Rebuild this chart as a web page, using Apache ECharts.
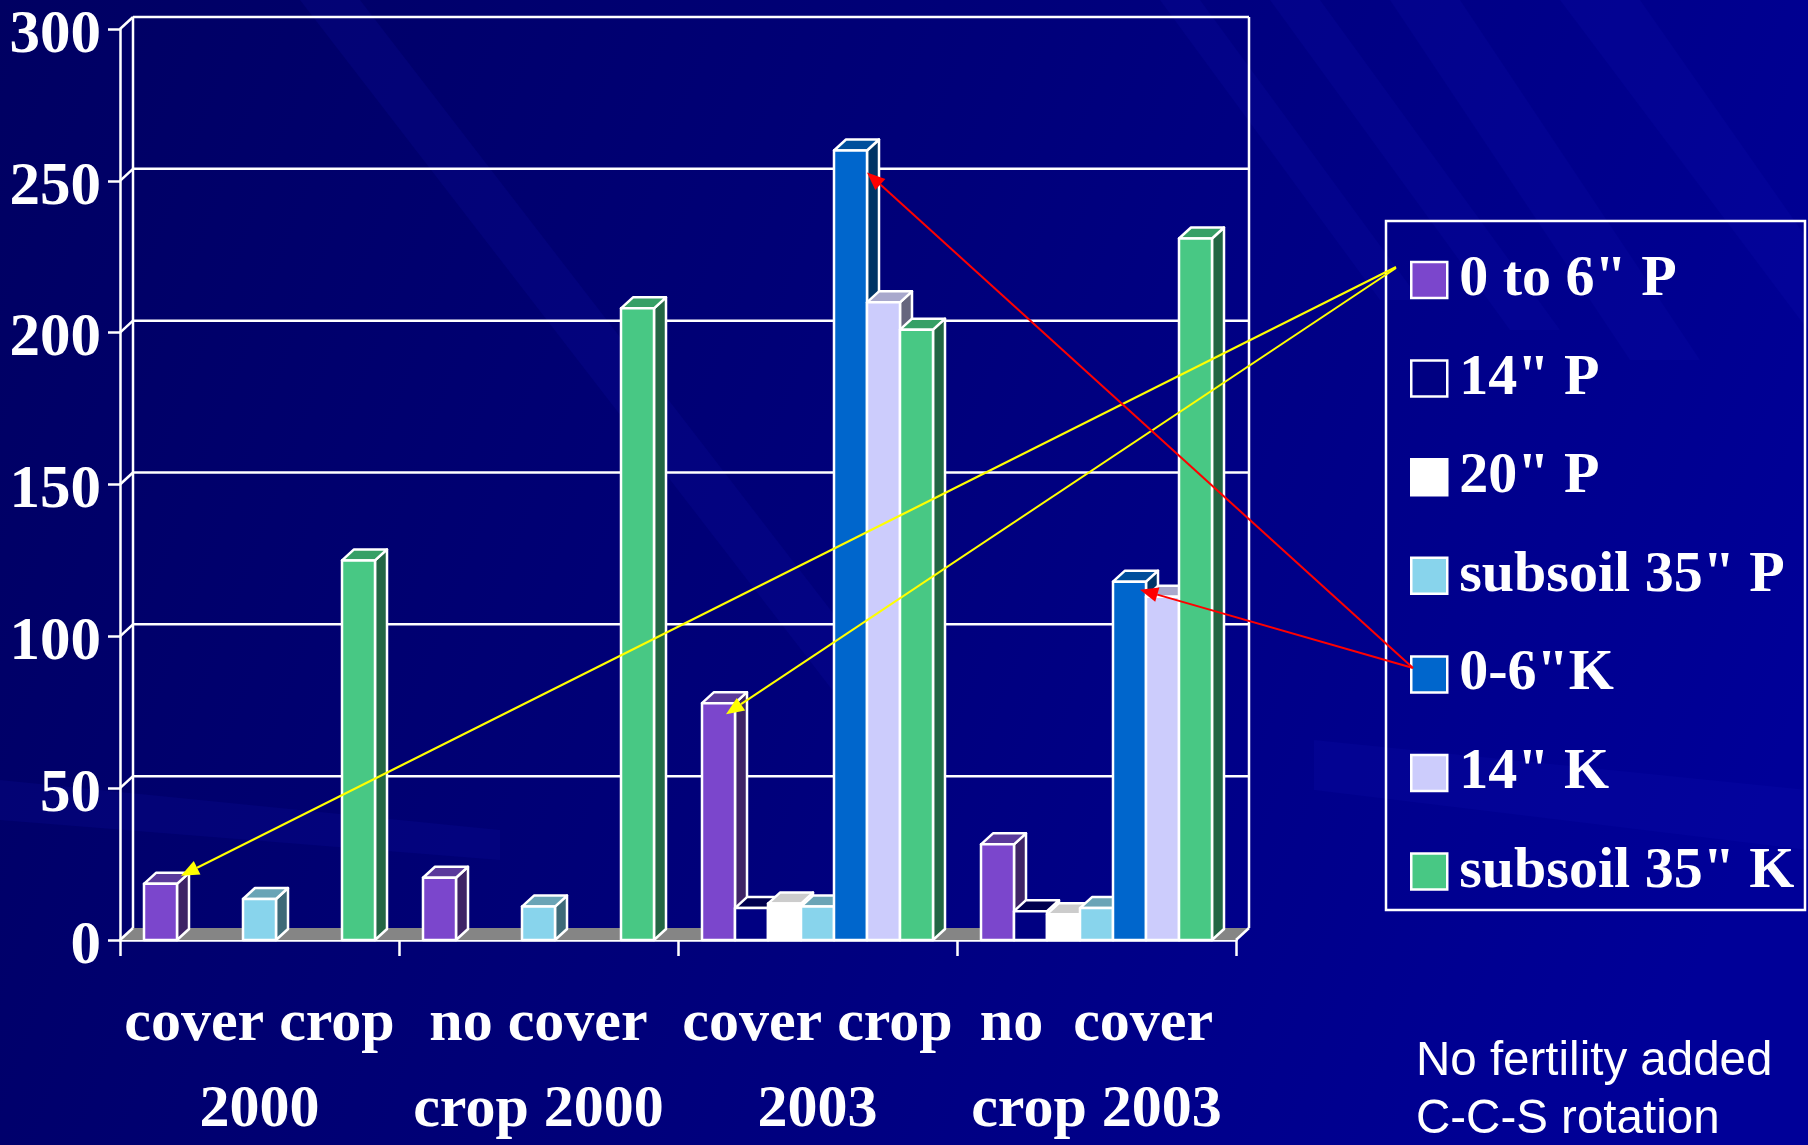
<!DOCTYPE html>
<html>
<head>
<meta charset="utf-8">
<script src="https://cdn.jsdelivr.net/npm/echarts@6/dist/echarts.min.js"></script>
<style>
  html, body { margin: 0; padding: 0; background: #000070; }
  #chart { width: 1808px; height: 1145px; }
</style>
</head>
<body>
<div id="chart"></div>
<script>
// ---- data -------------------------------------------------------------
const categories = ['cover crop\n2000', 'no cover\ncrop 2000', 'cover crop\n2003', 'no  cover\ncrop 2003'];
const seriesNames = ['0 to 6" P', '14" P', '20" P', 'subsoil 35" P', '0-6"K', '14" K', 'subsoil 35" K'];
const p0to6 = [18.5, 20.5, 78, 31.5];
const p14 = [null, null, 10.5, 9.5];
const p20 = [null, null, 12, 8.5];
const pSubsoil35 = [13.5, 11, 11, 10.5];
const k0to6 = [null, null, 260, 118];
const k14 = [null, null, 210, 113];
const kSubsoil35 = [125, 208, 201, 231];
const yTicks = [0, 50, 100, 150, 200, 250, 300];
const noteLines = ['No fertility added', 'C-C-S rotation'];

// ---- styling ------------------------------------------------------------
const seriesValues = [p0to6, p14, p20, pSubsoil35, k0to6, k14, kSubsoil35];
const faceColors = [
  { front: '#7b46cc', top: '#5b3a9c', side: '#3e2466' },
  { front: '#000082', top: '#00004e', side: '#00004a' },
  { front: '#ffffff', top: '#cccccc', side: '#8a8a8a' },
  { front: '#88d4ec', top: '#6aa4b6', side: '#3e6a78' },
  { front: '#0066cc', top: '#004f9c', side: '#003566' },
  { front: '#ccccfc', top: '#a8a8cc', side: '#66667e' },
  { front: '#48c884', top: '#36a066', side: '#236644' }
];
const BAR_FRAC = 33 / 279;       // front face width relative to the category band
const BAR_DEPTH = [12, 11];      // 3D offset of bar tops/sides
const WALL_DEPTH = [13, 12];     // 3D offset of the back wall and floor
const SERIF = 'Liberation Serif';

const chart = echarts.init(document.getElementById('chart'));

function barRenderer(sIdx) {
  const c = faceColors[sIdx];
  return function (params, api) {
    const v = api.value(1);
    if (v == null || isNaN(v)) return null;
    const cat = api.value(0);
    const base = api.coord([cat, 0]);
    const top = api.coord([cat, v]);
    const bw = api.size([1, 0])[0] * BAR_FRAC;
    const left = base[0] - bw * seriesNames.length / 2 + sIdx * bw;
    const right = left + bw;
    const yb = base[1], yt = top[1];
    const dx = BAR_DEPTH[0], dy = BAR_DEPTH[1];
    const edge = { stroke: '#ffffff', lineWidth: 2.5, lineJoin: 'round' };
    return {
      type: 'group',
      children: [
        { type: 'polygon', shape: { points: [[right, yb], [right + dx, yb - dy], [right + dx, yt - dy], [right, yt]] },
          style: Object.assign({ fill: c.side }, edge) },
        { type: 'polygon', shape: { points: [[left, yt], [right, yt], [right + dx, yt - dy], [left + dx, yt - dy]] },
          style: Object.assign({ fill: c.top }, edge) },
        { type: 'rect', shape: { x: left, y: yt, width: bw, height: yb - yt },
          style: Object.assign({ fill: c.front }, edge) }
      ]
    };
  };
}

// back wall, gridlines and floor of the 3D box
function frameRenderer(params, api) {
  const cs = params.coordSys;
  const dx = WALL_DEPTH[0], dy = WALL_DEPTH[1];
  const v = api.value(1);
  const y = api.coord([0, v])[1];
  const x0 = cs.x, x1 = cs.x + cs.width;
  const line = { stroke: '#ffffff', lineWidth: 2.5 };
  const children = [];
  if (params.dataIndex === 0) {
    const yTop = api.coord([0, yTicks[yTicks.length - 1]])[1];
    children.push(
      { type: 'polygon', shape: { points: [[x0, y], [x1, y], [x1 + dx, y - dy], [x0 + dx, y - dy]] },
        style: { fill: '#858585' } },
      { type: 'line', shape: { x1: x0 + dx, y1: y - dy, x2: x0 + dx, y2: yTop - dy }, style: line },
      { type: 'line', shape: { x1: x1 + dx, y1: y - dy, x2: x1 + dx, y2: yTop - dy }, style: line },
      { type: 'line', shape: { x1: x1, y1: y, x2: x1 + dx, y2: y - dy }, style: line }
    );
  } else {
    children.push({ type: 'line', shape: { x1: x0 + dx, y1: y - dy, x2: x1 + dx, y2: y - dy }, style: line });
  }
  children.push({ type: 'line', shape: { x1: x0, y1: y, x2: x0 + dx, y2: y - dy }, style: line });
  return { type: 'group', children: children };
}

// callout arrows from the legend keys to the bars they describe
const calloutArrows = [
  { s: 0, cat: 0, color: '#ffff00', from: [1396, 267], off: [4, -8] },
  { s: 0, cat: 2, color: '#ffff00', from: [1396, 268], off: [-9, 11] },
  { s: 4, cat: 2, color: '#ff0000', from: [1413, 668], off: [0, 22] },
  { s: 4, cat: 3, color: '#ff0000', from: [1413, 668], off: [-6, 8] }
];
function arrowRenderer(params, api) {
  const a = calloutArrows[params.dataIndex];
  const cat = api.value(0);
  const v = api.value(1);
  const base = api.coord([cat, 0]);
  const top = api.coord([cat, v]);
  const bw = api.size([1, 0])[0] * BAR_FRAC;
  const right = base[0] - bw * seriesNames.length / 2 + (a.s + 1) * bw;
  const tx = right + a.off[0], ty = top[1] + a.off[1];
  const fx = a.from[0], fy = a.from[1];
  const len = Math.hypot(fx - tx, fy - ty);
  const ux = (fx - tx) / len, uy = (fy - ty) / len;
  const hl = 18, hw = 7.5;
  const bx = tx + ux * hl, by = ty + uy * hl;
  return {
    type: 'group',
    children: [
      { type: 'line', shape: { x1: fx, y1: fy, x2: bx, y2: by }, style: { stroke: a.color, lineWidth: 2 } },
      { type: 'polygon', shape: { points: [[tx, ty], [bx - uy * hw, by + ux * hw], [bx + uy * hw, by - ux * hw]] },
        style: { fill: a.color } }
    ]
  };
}

const series = [{
  type: 'custom',
  renderItem: frameRenderer,
  data: yTicks.map(function (t) { return [0, t]; }),
  encode: { x: 0, y: 1 },
  clip: false,
  silent: true
}];
seriesNames.forEach(function (name, i) {
  series.push({
    type: 'custom',
    name: name,
    renderItem: barRenderer(i),
    itemStyle: { color: faceColors[i].front },
    data: seriesValues[i].map(function (v, c) { return [c, v]; }),
    encode: { x: 0, y: 1 },
    clip: false
  });
});
series.push({
  type: 'custom',
  renderItem: arrowRenderer,
  data: calloutArrows.map(function (a) { return [a.cat, seriesValues[a.s][a.cat]]; }),
  encode: { x: 0, y: 1 },
  clip: false,
  silent: true,
  z: 10
});

// background streaks
const streaks = [
  [[1270, 0], [1320, 0], [1560, 330], [1510, 330]],
  [[1390, 0], [1460, 0], [1700, 360], [1630, 360]],
  [[1560, 0], [1640, 0], [1808, 240], [1808, 330]],
  [[1160, 0], [1200, 0], [1420, 300], [1380, 300]],
  [[1314, 740], [1808, 790], [1808, 850], [1314, 790]],
  [[300, 0], [360, 0], [900, 700], [840, 700]],
  [[0, 780], [500, 830], [500, 860], [0, 820]]
];
const graphics = [
  { type: 'rect', z: -20, silent: true, shape: { x: 0, y: 0, width: 1808, height: 1145 },
    style: { fill: new echarts.graphic.LinearGradient(0, 0, 1, 0.6, [
      { offset: 0, color: '#000062' }, { offset: 0.5, color: '#00007a' }, { offset: 1, color: '#000098' }]) } }
];
streaks.forEach(function (pts) {
  graphics.push({ type: 'polygon', z: -19, silent: true, shape: { points: pts },
    style: { fill: 'rgba(20,20,190,0.13)' } });
});
graphics.push(
  { type: 'rect', z: 5, silent: true, shape: { x: 1386, y: 221, width: 419, height: 689 },
    style: { fill: null, stroke: '#ffffff', lineWidth: 2.5 } },
  { type: 'text', z: 5, silent: true, left: 1416, top: 1033,
    style: { text: noteLines.join('\n'), fill: '#ffffff', font: '47.5px "Liberation Sans"', lineHeight: 58 } }
);

chart.setOption({
  animation: false,
  graphic: graphics,
  grid: { left: 120, top: 29, width: 1116, height: 911, outerBoundsMode: 'none', containLabel: false },
  legend: {
    orient: 'vertical',
    left: 1405,
    top: 245,
    icon: 'rect',
    itemWidth: 36,
    itemHeight: 36,
    itemGap: 38.6,
    selectedMode: false,
    data: seriesNames,
    itemStyle: { borderColor: '#ffffff', borderWidth: 2.5 },
    textStyle: { color: '#ffffff', fontFamily: SERIF, fontWeight: 'bold', fontSize: 58, lineHeight: 60,
      padding: [0, 0, 0, 7] }
  },
  xAxis: {
    type: 'category',
    data: categories,
    axisLine: { show: true, lineStyle: { color: '#ffffff', width: 2.5 } },
    axisTick: { show: true, interval: 0, length: 16, lineStyle: { color: '#ffffff', width: 2.5 } },
    axisLabel: { interval: 0, color: '#ffffff', fontFamily: SERIF, fontWeight: 'bold', fontSize: 60,
      lineHeight: 86, margin: 41 },
    splitLine: { show: false }
  },
  yAxis: {
    type: 'value',
    min: 0, max: 300, interval: 50,
    axisLine: { show: true, lineStyle: { color: '#ffffff', width: 2.5 } },
    axisTick: { show: true, length: 12, lineStyle: { color: '#ffffff', width: 2.5 } },
    axisLabel: { color: '#ffffff', fontFamily: SERIF, fontWeight: 'bold', fontSize: 61, margin: 19,
      verticalAlign: 'top', lineHeight: 14 },
    splitLine: { show: false }
  },
  series: series
});
</script>
</body>
</html>
